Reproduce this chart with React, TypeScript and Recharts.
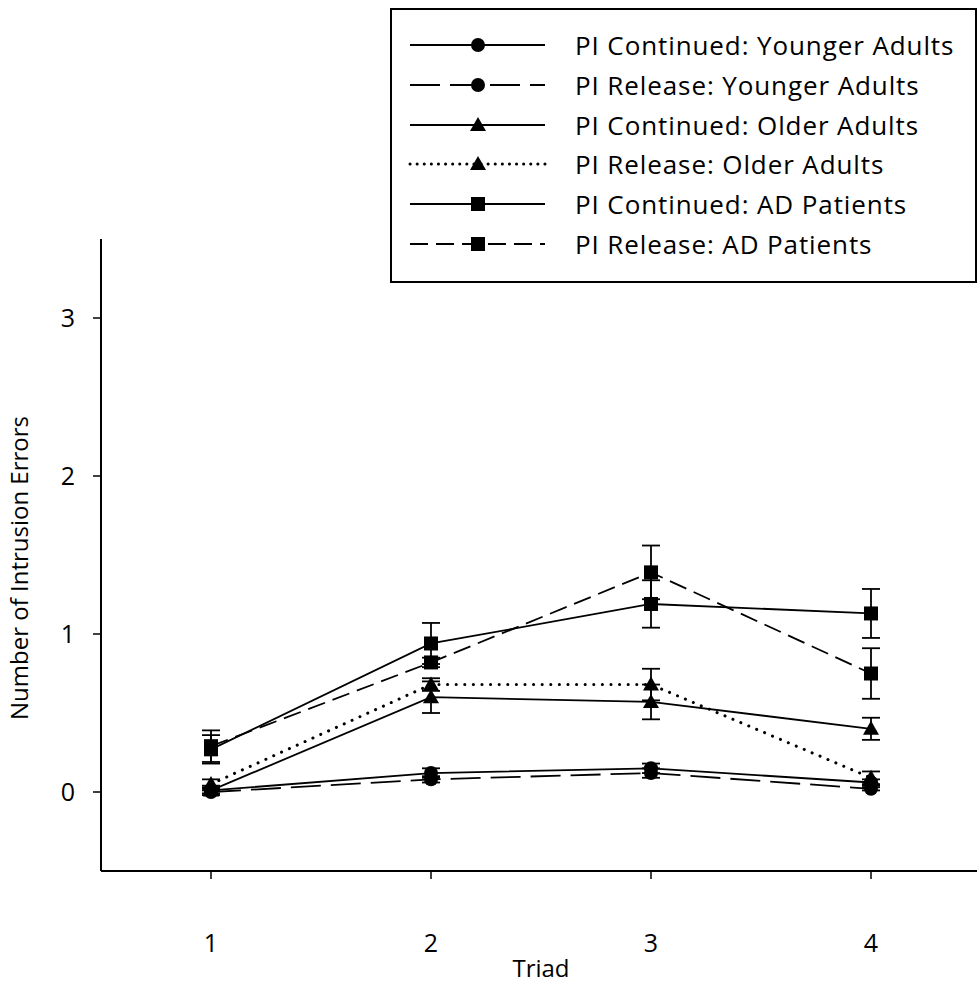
import React from "react";
import { LineChart, Line, XAxis, YAxis, ErrorBar } from "recharts";

const TRIADS = [1, 2, 3, 4];

// means and standard errors
const YA_CONT = [0.01, 0.12, 0.15, 0.06];
const YA_CONT_ERR = [0.02, 0.03, 0.03, 0.02];
const YA_REL = [0.0, 0.08, 0.12, 0.02];
const YA_REL_ERR = [0.01, 0.02, 0.03, 0.01];
const OA_CONT = [0.01, 0.6, 0.57, 0.4];
const OA_CONT_ERR = [0.03, 0.1, 0.11, 0.07];
const OA_REL = [0.05, 0.68, 0.68, 0.09];
const OA_REL_ERR = [0.03, 0.04, 0.1, 0.04];
const AD_CONT = [0.27, 0.94, 1.19, 1.13];
const AD_CONT_ERR = [0.09, 0.13, 0.15, 0.155];
const AD_REL = [0.29, 0.82, 1.39, 0.75];
const AD_REL_ERR = [0.1, 0.03, 0.17, 0.16];

const Y_TICKS = [0, 1, 2, 3];

type Shape = "circle" | "triangle" | "square";

const SERIES: {
  key: string;
  name: string;
  values: number[];
  errors: number[];
  shape: Shape;
  dash?: string;
  dotted?: boolean;
}[] = [
  { key: "yaCont", name: "PI Continued: Younger Adults", values: YA_CONT, errors: YA_CONT_ERR, shape: "circle" },
  { key: "yaRel", name: "PI Release: Younger Adults", values: YA_REL, errors: YA_REL_ERR, shape: "circle", dash: "30 10" },
  { key: "oaCont", name: "PI Continued: Older Adults", values: OA_CONT, errors: OA_CONT_ERR, shape: "triangle" },
  { key: "oaRel", name: "PI Release: Older Adults", values: OA_REL, errors: OA_REL_ERR, shape: "triangle", dotted: true },
  { key: "adCont", name: "PI Continued: AD Patients", values: AD_CONT, errors: AD_CONT_ERR, shape: "square" },
  { key: "adRel", name: "PI Release: AD Patients", values: AD_REL, errors: AD_REL_ERR, shape: "square", dash: "18 8" },
];

const data = TRIADS.map((t, i) => {
  const row: Record<string, number> = { triad: t };
  SERIES.forEach((s) => {
    row[s.key] = s.values[i];
    row[s.key + "Err"] = s.errors[i];
  });
  return row;
});

const FONT = "'Open Sans', sans-serif";

function Marker({ shape, cx, cy }: { shape: Shape; cx: number; cy: number }) {
  if (shape === "circle") return <circle cx={cx} cy={cy} r={7} fill="#000" />;
  if (shape === "square")
    return <rect x={cx - 7} y={cy - 7} width={14} height={14} fill="#000" />;
  return (
    <polygon
      points={`${cx},${cy - 8} ${cx - 8},${cy + 6} ${cx + 8},${cy + 6}`}
      fill="#000"
    />
  );
}

function makeDot(shape: Shape, key: string) {
  return (p: any) => {
    if (p.cx == null || p.cy == null) return <g key={`${key}-${p.index}`} />;
    return (
      <g key={`${key}-${p.index}`}>
        <Marker shape={shape} cx={p.cx} cy={p.cy} />
      </g>
    );
  };
}

function LegendBox() {
  return (
    <div
      style={{
        position: "absolute",
        left: 390,
        top: 8,
        width: 583,
        height: 271,
        border: "2px solid #000",
        background: "#fff",
        fontFamily: FONT,
      }}
    >
      {SERIES.map((s, i) => (
        <div
          key={s.key}
          style={{
            position: "absolute",
            left: 0,
            top: 15 + i * 39.8,
            height: 40,
            display: "flex",
            alignItems: "center",
          }}
        >
          <svg width={160} height={40} style={{ display: "block" }}>
            <line
              x1={18}
              x2={153}
              y1={20}
              y2={20}
              stroke="#000"
              strokeWidth={s.dotted ? 3 : 1.8}
              strokeDasharray={s.dotted ? "0.1 7" : s.dash}
              strokeLinecap={s.dotted ? "round" : "butt"}
            />
            <Marker shape={s.shape} cx={86} cy={20} />
          </svg>
          <span
            style={{
              marginLeft: 23,
              fontSize: 26,
              letterSpacing: 0.9,
              color: "#000",
              whiteSpace: "nowrap",
            }}
          >
            {s.name}
          </span>
        </div>
      ))}
    </div>
  );
}

export default function App() {
  return (
    <div
      style={{
        position: "absolute",
        left: 0,
        top: 0,
        width: 977,
        height: 988,
        overflow: "hidden",
        background: "#fff",
      }}
    >
      <LineChart
        width={985}
        height={988}
        data={data}
        margin={{ top: 239, right: 4, bottom: 0, left: 0 }}
        style={{ fontFamily: FONT }}
      >
        <XAxis
          dataKey="triad"
          type="number"
          domain={[0.5, 4.5]}
          ticks={TRIADS}
          height={117}
          tickSize={8}
          tickMargin={55}
          axisLine={{ stroke: "#000", strokeWidth: 2 }}
          tickLine={{ stroke: "#000", strokeWidth: 1.5 }}
          tick={{ fill: "#000", fontSize: 25 }}
          label={({ viewBox }: any) => (
            <text
              x={viewBox.x + viewBox.width / 2}
              y={viewBox.y + 100}
              textAnchor="middle"
              dominantBaseline="middle"
              fill="#000"
              fontSize={24}
              fontFamily={FONT}
            >
              Triad
            </text>
          )}
        />
        <YAxis
          type="number"
          domain={[-0.5, 3.5]}
          ticks={Y_TICKS}
          allowDataOverflow
          width={101}
          tickSize={8}
          tickMargin={18}
          axisLine={{ stroke: "#000", strokeWidth: 2 }}
          tickLine={{ stroke: "#000", strokeWidth: 1.5 }}
          tick={{ fill: "#000", fontSize: 25 }}
          label={({ viewBox }: any) => {
            const cx = viewBox.x + 22;
            const cy = viewBox.y + viewBox.height / 2 + 13;
            return (
              <text
                x={cx}
                y={cy}
                transform={`rotate(-90 ${cx} ${cy})`}
                textAnchor="middle"
                dominantBaseline="middle"
                fill="#000"
                fontSize={24}
                fontFamily={FONT}
              >
                Number of Intrusion Errors
              </text>
            );
          }}
        />
        {SERIES.map((s) => (
          <Line
            key={s.key}
            dataKey={s.key}
            name={s.name}
            type="linear"
            stroke="#000"
            strokeWidth={s.dotted ? 3 : 1.8}
            strokeDasharray={s.dotted ? "0.1 8.5" : s.dash}
            strokeLinecap={s.dotted ? "round" : "butt"}
            dot={makeDot(s.shape, s.key)}
            activeDot={false}
            isAnimationActive={false}
          >
            <ErrorBar
              dataKey={s.key + "Err"}
              direction="y"
              width={9}
              stroke="#000"
              strokeWidth={1.8}
              isAnimationActive={false}
            />
          </Line>
        ))}
      </LineChart>
      <LegendBox />
    </div>
  );
}
